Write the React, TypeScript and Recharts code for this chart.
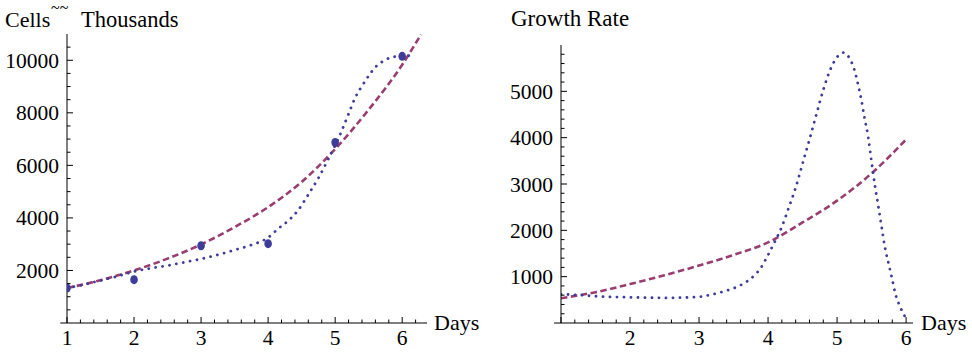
import { ComposedChart, Line, Scatter, XAxis, YAxis, ReferenceLine } from 'recharts';

// measured cell counts (thousands)
const days = [1, 2, 3, 4, 5, 6];
const cells = [1331, 1650, 2940, 3020, 6870, 10150];

// smooth fit through the counts (dotted)
const smoothDays = [1, 1.25, 1.5, 1.75, 2, 2.25, 2.5, 2.75, 3, 3.25, 3.5, 3.75, 4, 4.15, 4.3, 4.45, 4.6, 4.75, 4.9, 5, 5.1, 5.2, 5.3, 5.4, 5.5, 5.6, 5.7, 5.8, 5.9, 6, 6.17];
const smoothCells = [1331, 1460, 1620, 1775, 1960, 2085, 2185, 2310, 2440, 2595, 2780, 2970, 3250, 3590, 3890, 4300, 4890, 5520, 6250, 6760, 7330, 7960, 8580, 9020, 9410, 9740, 9940, 10080, 10140, 10170, 10180];

// exponential fit (dashed)
const expDays = [1, 1.5, 2, 2.5, 3, 3.5, 4, 4.5, 5, 5.5, 6, 6.28];
const expCells = [1331, 1630, 2000, 2450, 2990, 3650, 4410, 5370, 6620, 8120, 9830, 10980];

// growth rate of smooth fit (dotted)
const rateDays = [1, 1.25, 1.5, 1.75, 2, 2.25, 2.5, 2.75, 3, 3.2, 3.4, 3.6, 3.8, 3.9, 4, 4.1, 4.2, 4.3, 4.4, 4.5, 4.6, 4.7, 4.8, 4.9, 5, 5.05, 5.1, 5.15, 5.2, 5.25, 5.3, 5.35, 5.4, 5.45, 5.5, 5.55, 5.6, 5.65, 5.7, 5.75, 5.8, 5.85, 5.9, 5.95, 6];
const rateSmooth = [620, 605, 578, 562, 554, 547, 542, 547, 565, 620, 700, 815, 1025, 1200, 1470, 1760, 2080, 2490, 2920, 3440, 3960, 4500, 5030, 5460, 5740, 5810, 5837, 5780, 5660, 5470, 5170, 4830, 4410, 4020, 3475, 2950, 2500, 2030, 1580, 1260, 930, 600, 400, 230, 100];

// growth rate of exponential fit (dashed)
const rateExpDays = [1, 1.5, 2, 2.5, 3, 3.5, 4, 4.5, 5, 5.5, 6];
const rateExp = [535, 665, 840, 1030, 1240, 1470, 1740, 2170, 2640, 3230, 3960];

const leftXLabels = [1, 2, 3, 4, 5, 6];
const leftYLabels = [2000, 4000, 6000, 8000, 10000];
const rightXLabels = [2, 3, 4, 5, 6];
const rightYLabels = [1000, 2000, 3000, 4000, 5000];

const leftXTicks = Array.from({ length: 27 }, (_, i) => +(1 + i * 0.2).toFixed(1));
const rightXTicks = Array.from({ length: 26 }, (_, i) => +(1 + i * 0.2).toFixed(1));
const leftYTicks = Array.from({ length: 21 }, (_, i) => 500 + i * 500);
const rightYTicks = Array.from({ length: 29 }, (_, i) => 200 + i * 200);

const zip = (xs: number[], ys: number[]) => xs.map((x, i) => ({ x, y: ys[i] }));

const BLUE = '#3d3d99';
const PINK = '#993d71';
const FONT = 'Liberation Serif, Times New Roman, serif';
const txt = { fontFamily: FONT };

const makeXTick = (labels: number[]) => (props: any) => {
  const { x, y, payload } = props;
  const v = payload.value;
  const major = Math.abs(v - Math.round(v)) < 1e-6;
  return (
    <g>
      <line x1={x} x2={x} y1={y} y2={y - (major ? 6 : 3.5)} stroke="#000" strokeWidth={1} />
      {major && labels.includes(Math.round(v)) && (
        <text x={x} y={y + 22} textAnchor="middle" fontSize={21.5} style={txt} fill="#000">
          {Math.round(v)}
        </text>
      )}
    </g>
  );
};

const makeYTick = (labels: number[], step: number) => (props: any) => {
  const { x, y, payload } = props;
  const v = payload.value;
  const major = v % step === 0;
  return (
    <g>
      <line x1={x} x2={x + (major ? 6 : 3.5)} y1={y} y2={y} stroke="#000" strokeWidth={1} />
      {major && labels.includes(v) && (
        <text x={x - 8} y={y} dy="0.35em" textAnchor="end" fontSize={21.5} style={txt} fill="#000">
          {v}
        </text>
      )}
    </g>
  );
};

const Dot = (props: any) => <ellipse cx={props.cx} cy={props.cy} rx={3.8} ry={4.5} fill={BLUE} />;

const dotted = { stroke: BLUE, strokeWidth: 2.8, strokeDasharray: '0.1 6.9', strokeLinecap: 'round' as const };
const dashed = { stroke: PINK, strokeWidth: 2.6, strokeDasharray: '6.5 3.5' };

export default function App() {
  return (
    <div style={{ position: 'absolute', left: 0, top: 0, width: 972, height: 352, background: '#fff', fontFamily: FONT }}>
      <div style={{ position: 'absolute', left: 0, top: 0 }}>
        <ComposedChart width={486} height={352} margin={{ top: 34, right: 59, bottom: 0, left: 0 }}>
          <XAxis
            type="number"
            dataKey="x"
            domain={[1, 6.37]}
            ticks={leftXTicks}
            interval={0}
            height={29}
            tickSize={0}
            tickMargin={0}
            tickLine={false}
            axisLine={{ stroke: '#000' }}
            tick={makeXTick(leftXLabels)}
            allowDataOverflow
          />
          <YAxis
            type="number"
            domain={[0, 11000]}
            ticks={leftYTicks}
            interval={0}
            width={67}
            tickSize={0}
            tickMargin={0}
            tickLine={false}
            axisLine={{ stroke: '#000' }}
            tick={makeYTick(leftYLabels, 2000)}
            allowDataOverflow
          />
          <ReferenceLine segment={[{ x: 0.9, y: 0 }, { x: 1, y: 0 }]} stroke="#000" ifOverflow="visible" />
          <Scatter data={zip(days, cells)} dataKey="y" shape={Dot} isAnimationActive={false} />
          <Line data={zip(expDays, expCells)} dataKey="y" type="monotone" dot={false} {...dashed} isAnimationActive={false} />
          <Line data={zip(smoothDays, smoothCells)} dataKey="y" type="monotone" dot={false} {...dotted} isAnimationActive={false} />
        </ComposedChart>
      </div>
      <div style={{ position: 'absolute', left: 486, top: 0 }}>
        <ComposedChart width={486} height={352} margin={{ top: 45, right: 59, bottom: 0, left: 0 }}>
          <XAxis
            type="number"
            dataKey="x"
            domain={[1, 6.1]}
            ticks={rightXTicks}
            interval={0}
            height={29}
            tickSize={0}
            tickMargin={0}
            tickLine={false}
            axisLine={{ stroke: '#000' }}
            tick={makeXTick(rightXLabels)}
            allowDataOverflow
          />
          <YAxis
            type="number"
            domain={[0, 6000]}
            ticks={rightYTicks}
            interval={0}
            width={75}
            tickSize={0}
            tickMargin={0}
            tickLine={false}
            axisLine={{ stroke: '#000' }}
            tick={makeYTick(rightYLabels, 1000)}
            allowDataOverflow
          />
          <ReferenceLine segment={[{ x: 0.9, y: 0 }, { x: 1, y: 0 }]} stroke="#000" ifOverflow="visible" />
          <Line data={zip(rateExpDays, rateExp)} dataKey="y" type="monotone" dot={false} {...dashed} isAnimationActive={false} />
          <Line data={zip(rateDays, rateSmooth)} dataKey="y" type="monotone" dot={false} {...dotted} isAnimationActive={false} />
        </ComposedChart>
      </div>
      <svg width={972} height={352} style={{ position: 'absolute', left: 0, top: 0, pointerEvents: 'none' }}>
        <g fill="#000">
          <text x={5} y={27} fontSize={22} style={txt}>Cells</text>
          <text x={51} y={13} fontSize={16} style={txt}>~~</text>
          <text x={81} y={27} fontSize={22.5} style={txt}>Thousands</text>
          <text x={511} y={26} fontSize={23} style={txt}>Growth Rate</text>
          <text x={434} y={330} fontSize={22} style={txt}>Days</text>
          <text x={921} y={330} fontSize={22} style={txt}>Days</text>
        </g>
      </svg>
    </div>
  );
}
